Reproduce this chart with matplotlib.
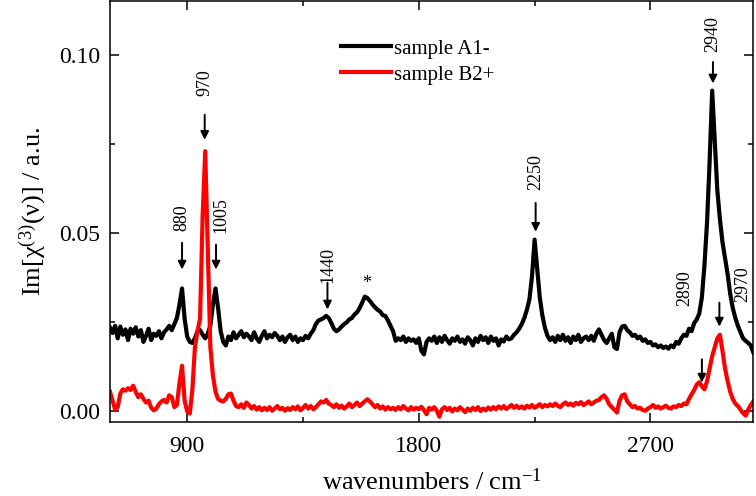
import matplotlib
matplotlib.use("Agg")
import matplotlib.pyplot as plt
import numpy as np

plt.rcParams['font.family'] = ['Liberation Serif', 'DejaVu Serif']
plt.rcParams['mathtext.fontset'] = 'custom'
plt.rcParams['mathtext.rm'] = 'Liberation Serif'
plt.rcParams['mathtext.it'] = 'Liberation Serif:italic'

""" Data (read off the reference) """
wavenumbers = np.arange(600, 3101, 10)

sample_a1 = [
    0.0235, 0.0220, 0.0240, 0.0205, 0.0238, 0.0215, 0.0230, 0.0200, 0.0232, 0.0218,  # 600
    0.0236, 0.0210, 0.0228, 0.0195, 0.0212, 0.0232, 0.0200, 0.0218, 0.0212, 0.0225,  # 700
    0.0205, 0.0222, 0.0230, 0.0240, 0.0228, 0.0245, 0.0262, 0.0300, 0.0345, 0.0260,  # 800
    0.0210, 0.0195, 0.0192, 0.0205, 0.0225, 0.0228, 0.0215, 0.0205, 0.0218, 0.0240,  # 900
    0.0300, 0.0345, 0.0290, 0.0225, 0.0195, 0.0185, 0.0210, 0.0200, 0.0222, 0.0205,  # 1000
    0.0215, 0.0225, 0.0208, 0.0218, 0.0210, 0.0200, 0.0222, 0.0205, 0.0195, 0.0212,  # 1100
    0.0225, 0.0205, 0.0215, 0.0208, 0.0220, 0.0212, 0.0200, 0.0210, 0.0195, 0.0208,  # 1200
    0.0215, 0.0200, 0.0210, 0.0195, 0.0205, 0.0200, 0.0212, 0.0205, 0.0218, 0.0228,  # 1300
    0.0245, 0.0255, 0.0258, 0.0262, 0.0268, 0.0262, 0.0248, 0.0232, 0.0225, 0.0230,  # 1400
    0.0238, 0.0245, 0.0250, 0.0258, 0.0262, 0.0272, 0.0278, 0.0290, 0.0305, 0.0322,  # 1500
    0.0318, 0.0310, 0.0300, 0.0292, 0.0285, 0.0280, 0.0270, 0.0268, 0.0255, 0.0240,  # 1600
    0.0225, 0.0198, 0.0205, 0.0200, 0.0210, 0.0195, 0.0205, 0.0198, 0.0202, 0.0192,  # 1700
    0.0205, 0.0170, 0.0160, 0.0195, 0.0205, 0.0198, 0.0210, 0.0192, 0.0208, 0.0195,  # 1800
    0.0212, 0.0200, 0.0190, 0.0205, 0.0198, 0.0210, 0.0195, 0.0202, 0.0190, 0.0208,  # 1900
    0.0200, 0.0185, 0.0205, 0.0195, 0.0212, 0.0200, 0.0208, 0.0192, 0.0210, 0.0198,  # 2000
    0.0205, 0.0185, 0.0202, 0.0196, 0.0210, 0.0202, 0.0205, 0.0215, 0.0222, 0.0232,  # 2100
    0.0245, 0.0262, 0.0285, 0.0315, 0.0380, 0.0482, 0.0400, 0.0320, 0.0270, 0.0235,  # 2200
    0.0212, 0.0200, 0.0208, 0.0195, 0.0212, 0.0200, 0.0215, 0.0198, 0.0208, 0.0192,  # 2300
    0.0210, 0.0200, 0.0215, 0.0195, 0.0205, 0.0210, 0.0200, 0.0212, 0.0198, 0.0218,  # 2400
    0.0230, 0.0215, 0.0200, 0.0192, 0.0205, 0.0218, 0.0180, 0.0175, 0.0222, 0.0238,  # 2500
    0.0240, 0.0228, 0.0222, 0.0212, 0.0215, 0.0205, 0.0210, 0.0198, 0.0202, 0.0192,  # 2600
    0.0195, 0.0185, 0.0188, 0.0180, 0.0185, 0.0178, 0.0182, 0.0176, 0.0185, 0.0180,  # 2700
    0.0195, 0.0190, 0.0205, 0.0215, 0.0212, 0.0232, 0.0225, 0.0248, 0.0258, 0.0275,  # 2800
    0.0320, 0.0410, 0.0530, 0.0700, 0.0900, 0.0760, 0.0620, 0.0540, 0.0475, 0.0430,  # 2900
    0.0385, 0.0330, 0.0290, 0.0262, 0.0240, 0.0222, 0.0205, 0.0198, 0.0192, 0.0185,  # 3000
    0.0165,
]

sample_b2 = [
    0.0055, 0.0030, 0.0005, 0.0012, 0.0050, 0.0062, 0.0058, 0.0065, 0.0060, 0.0072,  # 600
    0.0055, 0.0040, 0.0048, 0.0035, 0.0025, 0.0030, 0.0010, 0.0003, 0.0008, 0.0020,  # 700
    0.0028, 0.0032, 0.0025, 0.0045, 0.0040, 0.0012, 0.0018, 0.0080, 0.0128, 0.0030,  # 800
    0.0000, -0.0006, 0.0060, 0.0180, 0.0225, 0.0260, 0.0550, 0.0730, 0.0450, 0.0180,  # 900
    0.0100, 0.0055, 0.0035, 0.0030, 0.0028, 0.0035, 0.0048, 0.0050, 0.0030, 0.0015,  # 1000
    0.0012, 0.0020, 0.0010, 0.0025, 0.0018, 0.0008, 0.0015, 0.0005, 0.0012, 0.0003,  # 1100
    0.0010, 0.0004, 0.0012, 0.0002, 0.0008, 0.0015, 0.0006, 0.0010, 0.0002, 0.0009,  # 1200
    0.0004, 0.0012, 0.0006, 0.0014, 0.0003, 0.0010, 0.0018, 0.0008, 0.0015, 0.0006,  # 1300
    0.0012, 0.0020, 0.0028, 0.0025, 0.0032, 0.0022, 0.0018, 0.0012, 0.0020, 0.0010,  # 1400
    0.0016, 0.0008, 0.0014, 0.0022, 0.0012, 0.0018, 0.0025, 0.0015, 0.0022, 0.0028,  # 1500
    0.0034, 0.0028, 0.0020, 0.0012, 0.0018, 0.0008, 0.0014, 0.0005, 0.0012, 0.0006,  # 1600
    0.0010, 0.0004, 0.0012, 0.0006, 0.0015, 0.0008, 0.0003, 0.0012, 0.0005, 0.0010,  # 1700
    0.0006, 0.0013, 0.0004, -0.0008, 0.0010, 0.0005, 0.0012, 0.0002, -0.0015, 0.0006,  # 1800
    0.0012, 0.0004, 0.0010, 0.0000, 0.0008, 0.0003, 0.0012, 0.0005, -0.0002, 0.0008,  # 1900
    0.0002, 0.0010, 0.0004, 0.0012, 0.0001, 0.0008, 0.0003, 0.0011, 0.0005, 0.0012,  # 2000
    0.0006, 0.0014, 0.0008, 0.0015, 0.0007, 0.0012, 0.0018, 0.0010, 0.0016, 0.0009,  # 2100
    0.0014, 0.0008, 0.0016, 0.0011, 0.0018, 0.0010, 0.0015, 0.0020, 0.0012, 0.0018,  # 2200
    0.0014, 0.0020, 0.0015, 0.0022, 0.0016, 0.0012, 0.0020, 0.0025, 0.0018, 0.0022,  # 2300
    0.0016, 0.0024, 0.0020, 0.0026, 0.0018, 0.0022, 0.0028, 0.0020, 0.0025, 0.0030,  # 2400
    0.0032, 0.0040, 0.0045, 0.0035, 0.0020, 0.0012, 0.0005, -0.0003, 0.0030, 0.0045,  # 2500
    0.0048, 0.0028, 0.0020, 0.0012, 0.0015, 0.0008, 0.0010, 0.0004, 0.0002, 0.0008,  # 2600
    0.0012, 0.0018, 0.0010, 0.0014, 0.0008, 0.0012, 0.0016, 0.0010, 0.0008, 0.0014,  # 2700
    0.0012, 0.0018, 0.0015, 0.0022, 0.0020, 0.0035, 0.0048, 0.0060, 0.0075, 0.0082,  # 2800
    0.0070, 0.0062, 0.0085, 0.0120, 0.0155, 0.0180, 0.0205, 0.0215, 0.0170, 0.0120,  # 2900
    0.0085, 0.0055, 0.0035, 0.0022, 0.0015, 0.0005, -0.0005, -0.0012, 0.0005, 0.0018,  # 3000
    0.0028,
]

# arrows: (position, tail, head)
arrows = [(880, 0.0473, 0.0398), (968, 0.0832, 0.0762), (1012, 0.0468, 0.0398),
          (1445, 0.0361, 0.0286), (2254, 0.0585, 0.0504), (2943, 0.0980, 0.0920),
          (2900, 0.0146, 0.0081), (2968, 0.0305, 0.0238)]
# peak labels: (text, x, y)
labels = [("880", 880, 0.0543), ("970", 968, 0.0922), ("1005", 1032, 0.0552),
          ("1440", 1447, 0.0410), ("2250", 2254, 0.0672), ("2940", 2943, 0.1060),
          ("2890", 2834, 0.0345), ("2970", 3060, 0.0356)]


""" Pyplot Settings """
fig = plt.figure(figsize=(7.56, 4.96), dpi=100)
ax = fig.add_axes([0.1455, 0.149, 0.851, 0.848])

ax.plot(wavenumbers, sample_a1, color='black', lw=3.0, label='sample A1-')
ax.plot(wavenumbers, sample_b2, color='red', lw=3.0, label='sample B2+')

for x, tail, head in arrows:
    ax.annotate('', xy=(x, head), xytext=(x, tail),
                arrowprops=dict(arrowstyle='-|>', color='black', lw=1.4,
                                mutation_scale=12, shrinkA=0, shrinkB=0))
for text, x, y in labels:
    ax.text(x, y, text, rotation=90, ha='center', va='center', fontsize=13)
ax.text(1599, 0.0358, '*', ha='center', va='center', fontsize=13)

ax.set_xlim(600, 3100)
ax.set_ylim(-0.003, 0.115)
ax.set_xticks([900, 1800, 2700])
ax.set_xticks([1350, 2250], minor=True)
ax.set_yticks([0.00, 0.05, 0.10])
ax.set_yticks([0.025, 0.075], minor=True)
ax.yaxis.set_major_formatter(matplotlib.ticker.FormatStrFormatter('%.2f'))

ax.tick_params(which='both', direction='in', top=True, right=True, width=1.1)
ax.tick_params(which='major', length=6.5, labelsize=17, pad=7)
ax.tick_params(axis='x', which='major', pad=10)
ax.tick_params(which='minor', length=3.6)
for s in ax.spines.values():
    s.set_linewidth(1.1)

ax.set_xlabel('wavenumbers / cm$^{-1}$', fontsize=19, labelpad=8)
ax.set_ylabel('Im[χ$^{(3)}$(ν)] / a.u.', fontsize=19, labelpad=7)

ax.legend(loc='upper left', bbox_to_anchor=(0.33, 0.955), frameon=False,
          fontsize=15, handlelength=2.4, handletextpad=0.15, labelspacing=0.3)

fig.savefig('out.png', dpi=100)
